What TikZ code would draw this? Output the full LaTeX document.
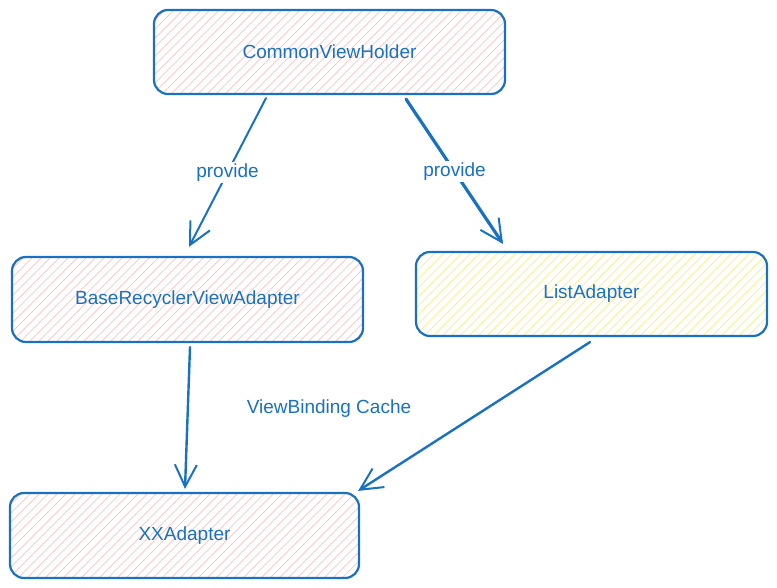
\documentclass[tikz,border=0pt]{standalone}
\usepackage{fontspec}
\setmainfont{Liberation Sans}
\usetikzlibrary{arrows.meta,calc}
\definecolor{stroke}{HTML}{1971C2}
\definecolor{pinkfill}{HTML}{FFC9C9}
\definecolor{yellowfill}{HTML}{FFEC99}
\tikzset{
  hatchbox/.style={draw=stroke, line width=2.2pt, rounded corners=14pt, inner sep=0pt,
    text=stroke, font=\fontsize{19}{22}\selectfont,
    path picture={\foreach \i in {0,...,52}{\draw[#1, line width=1pt]
      ($(path picture bounding box.south west)+(\i*9pt-100pt,0pt)$) -- ++(110pt,110pt);}}},
  lbl/.style={text=stroke, font=\fontsize{19}{22}\selectfont, fill=white, inner sep=2pt},
  conn/.style={draw=stroke, line width=2pt, line cap=round, line join=round,
    -{Straight Barb[length=22pt,width=22pt,line width=2pt]}},
}
\begin{document}
\begin{tikzpicture}[x=1pt,y=-1pt]
\useasboundingbox (0,0) rectangle (777,588);
\node[hatchbox=pinkfill, minimum width=351pt, minimum height=84pt] (cvh) at (329.5,52) {CommonViewHolder};
\node[hatchbox=pinkfill, minimum width=351pt, minimum height=85pt] (base) at (187.5,299.5) {BaseRecyclerViewAdapter};
\node[hatchbox=yellowfill, minimum width=351pt, minimum height=84pt] (list) at (591.5,294) {ListAdapter};
\node[hatchbox=pinkfill, minimum width=349pt, minimum height=85pt] (xx) at (184.5,535.5) {XXAdapter};

\draw[conn] ([xshift=-63.5pt,yshift=-3pt]cvh.south) -- node[lbl] (p1) {provide} ([xshift=1.5pt,yshift=9pt]base.north);
\draw[conn, line width=3.2pt] ([xshift=76.5pt,yshift=-4pt]cvh.south) -- node[lbl] (p2) {provide} ([xshift=-88.5pt,yshift=7pt]list.north);
\draw[conn, line width=2.4pt] ([xshift=2.5pt,yshift=-4pt]base.south) -- ([xshift=0.5pt,yshift=3pt]xx.north);
\draw[conn, line width=2.4pt] ([xshift=-1.5pt,yshift=-5pt]list.south) -- ([xshift=-2pt,yshift=1pt]xx.north east);
\node[text=stroke, font=\fontsize{19}{22}\selectfont] (vbc) at (329,409) {ViewBinding Cache};
\end{tikzpicture}
\end{document}
